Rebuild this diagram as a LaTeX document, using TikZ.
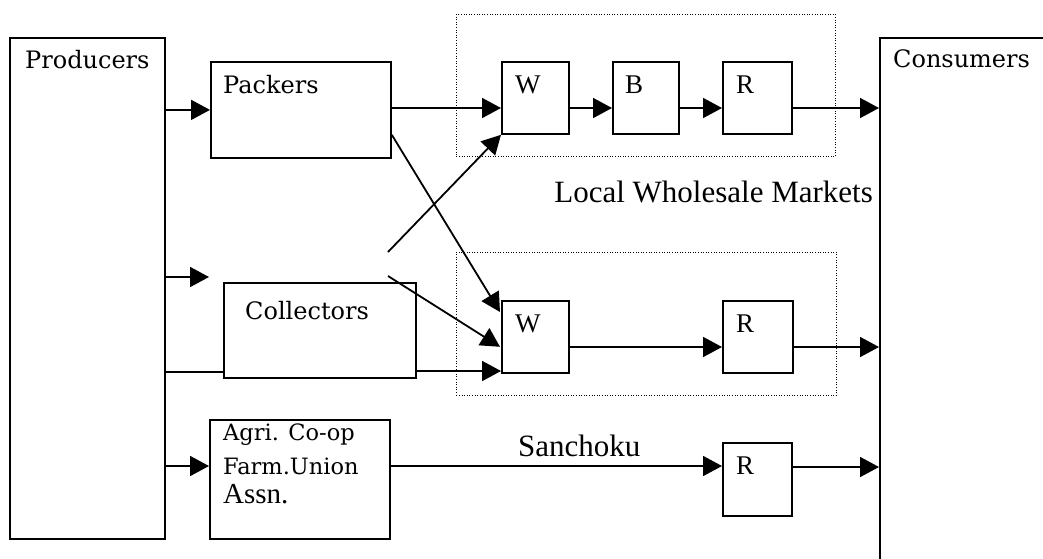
\documentclass[tikz,border=0pt]{standalone}
\usepackage{fontspec}
\setmainfont{Liberation Serif}
\newfontfamily\schfont{DejaVu Serif}
\usetikzlibrary{arrows.meta,calc}
\tikzset{
  box/.style={draw, line width=1.8pt, rectangle, inner sep=0pt, anchor=north west},
  market/.style={draw, line width=0.9pt, dash pattern=on 1pt off 1.6pt, rectangle, inner sep=0pt, anchor=north west},
  lbl/.style={inner sep=0pt, anchor=base west},
  flow/.style={line width=1.8pt, -{Triangle[length=19pt,width=20pt]}},
  link/.style={line width=1.8pt},
}
\newcommand{\boxfont}{\schfont\fontsize{24}{28}\selectfont}
\newcommand{\wbrfont}{\fontsize{27}{30}\selectfont}
\begin{document}
\begin{tikzpicture}[x=1pt,y=-1pt]
\clip (0,0) rectangle (1043,558);
\fill[white] (0,0) rectangle (1043,558);

% main actors
\node[box, minimum width=155pt, minimum height=501pt] (prod) at (9,37) {};
\node[box, minimum width=180pt, minimum height=96pt] (pack) at (210,61) {};
\node[box, minimum width=192pt, minimum height=95pt] (coll) at (223,282) {};
\node[box, minimum width=180pt, minimum height=119pt] (agri) at (209,419) {};
\node[box, minimum width=260pt, minimum height=560pt] (cons) at (879,37) {};

% wholesale market groups
\node[market, minimum width=379pt, minimum height=142pt] (mkt1) at (456,14) {};
\node[market, minimum width=380pt, minimum height=143pt] (mkt2) at (456,252) {};

% market stages
\node[box, minimum width=67pt, minimum height=72pt] (w1) at (501,61) {};
\node[box, minimum width=66pt, minimum height=72pt] (b1) at (612,61) {};
\node[box, minimum width=69pt, minimum height=72pt] (r1) at (722,61) {};
\node[box, minimum width=67pt, minimum height=72pt] (w2) at (501,300) {};
\node[box, minimum width=70pt, minimum height=72pt] (r2) at (722,300) {};
\node[box, minimum width=69pt, minimum height=73pt] (r3) at (722,442) {};

% labels
\node[lbl] (prodT) at ($(prod.north west)+(16,31)$) {\boxfont Producers};
\node[lbl] (packT) at ($(pack.north west)+(13,32)$) {\boxfont Packers};
\node[lbl] (collT) at ($(coll.north west)+(22,37)$) {\boxfont Collectors};
\node[lbl] (consT) at ($(cons.north west)+(14,30)$) {\boxfont Consumers};
\node[lbl] (agriT1) at ($(agri.north west)+(14,21)$) {\schfont\fontsize{22.5}{26}\selectfont Agri. Co-op};
\node[lbl] (agriT2) at ($(agri.north west)+(14,55)$) {\schfont\fontsize{22.5}{26}\selectfont Farm.Union};
\node[lbl] (agriT3) at ($(agri.north west)+(14,84)$) {\fontsize{29}{32}\selectfont Assn.};
\node[lbl] (w1T) at ($(w1.north west)+(14,32)$) {\wbrfont W};
\node[lbl] (b1T) at ($(b1.north west)+(13,32)$) {\wbrfont B};
\node[lbl] (r1T) at ($(r1.north west)+(14,32)$) {\wbrfont R};
\node[lbl] (w2T) at ($(w2.north west)+(14,32)$) {\wbrfont W};
\node[lbl] (r2T) at ($(r2.north west)+(14,32)$) {\wbrfont R};
\node[lbl] (r3T) at ($(r3.north west)+(14,32)$) {\wbrfont R};
\node[inner sep=0pt, anchor=base east] (lwm) at (873,202) {\fontsize{31}{34}\selectfont Local Wholesale Markets};
\node[lbl] (sanT) at (518,456) {\fontsize{31}{34}\selectfont Sanchoku};

% loose line ends
\coordinate (cA) at (388,252);
\coordinate (cB) at (388,276);
\coordinate (cC) at (209,277);

% top channel
\draw[flow] (prod.east |- pack.west) -- (pack.west);
\draw[flow] (pack.east |- 0,108) -- (w1.west |- 0,108);
\draw[flow] (w1.east |- 0,108) -- (b1.west |- 0,108);
\draw[flow] (b1.east |- 0,108) -- (r1.west |- 0,108);
\draw[flow] (r1.east |- 0,108) -- (cons.west |- 0,108);

% crossing flows
\draw[flow] ($(pack.south east)+(0,-24)$) -- ($(w2.north west)+(-1,12)$);
\draw[flow] (cA) -- (w1.south west);
\draw[flow] (cB) -- ($(w2.south west)+(-1,-27)$);

% collectors channel
\draw[flow] (prod.east |- cC) -- (cC);
\draw[link] (prod.east |- 0,372) -- (coll.west |- 0,372);
\draw[flow] (coll.east |- 0,371) -- (w2.west |- 0,371);
\draw[flow] (w2.east |- 0,347) -- (r2.west |- 0,347);
\draw[flow] (r2.east |- 0,347) -- (cons.west |- 0,347);

% direct channel
\draw[flow] (prod.east |- 0,466) -- (agri.west |- 0,466);
\draw[flow] (agri.east |- 0,466) -- (r3.west |- 0,466);
\draw[flow] (r3.east |- 0,467) -- (cons.west |- 0,467);
\end{tikzpicture}
\end{document}
